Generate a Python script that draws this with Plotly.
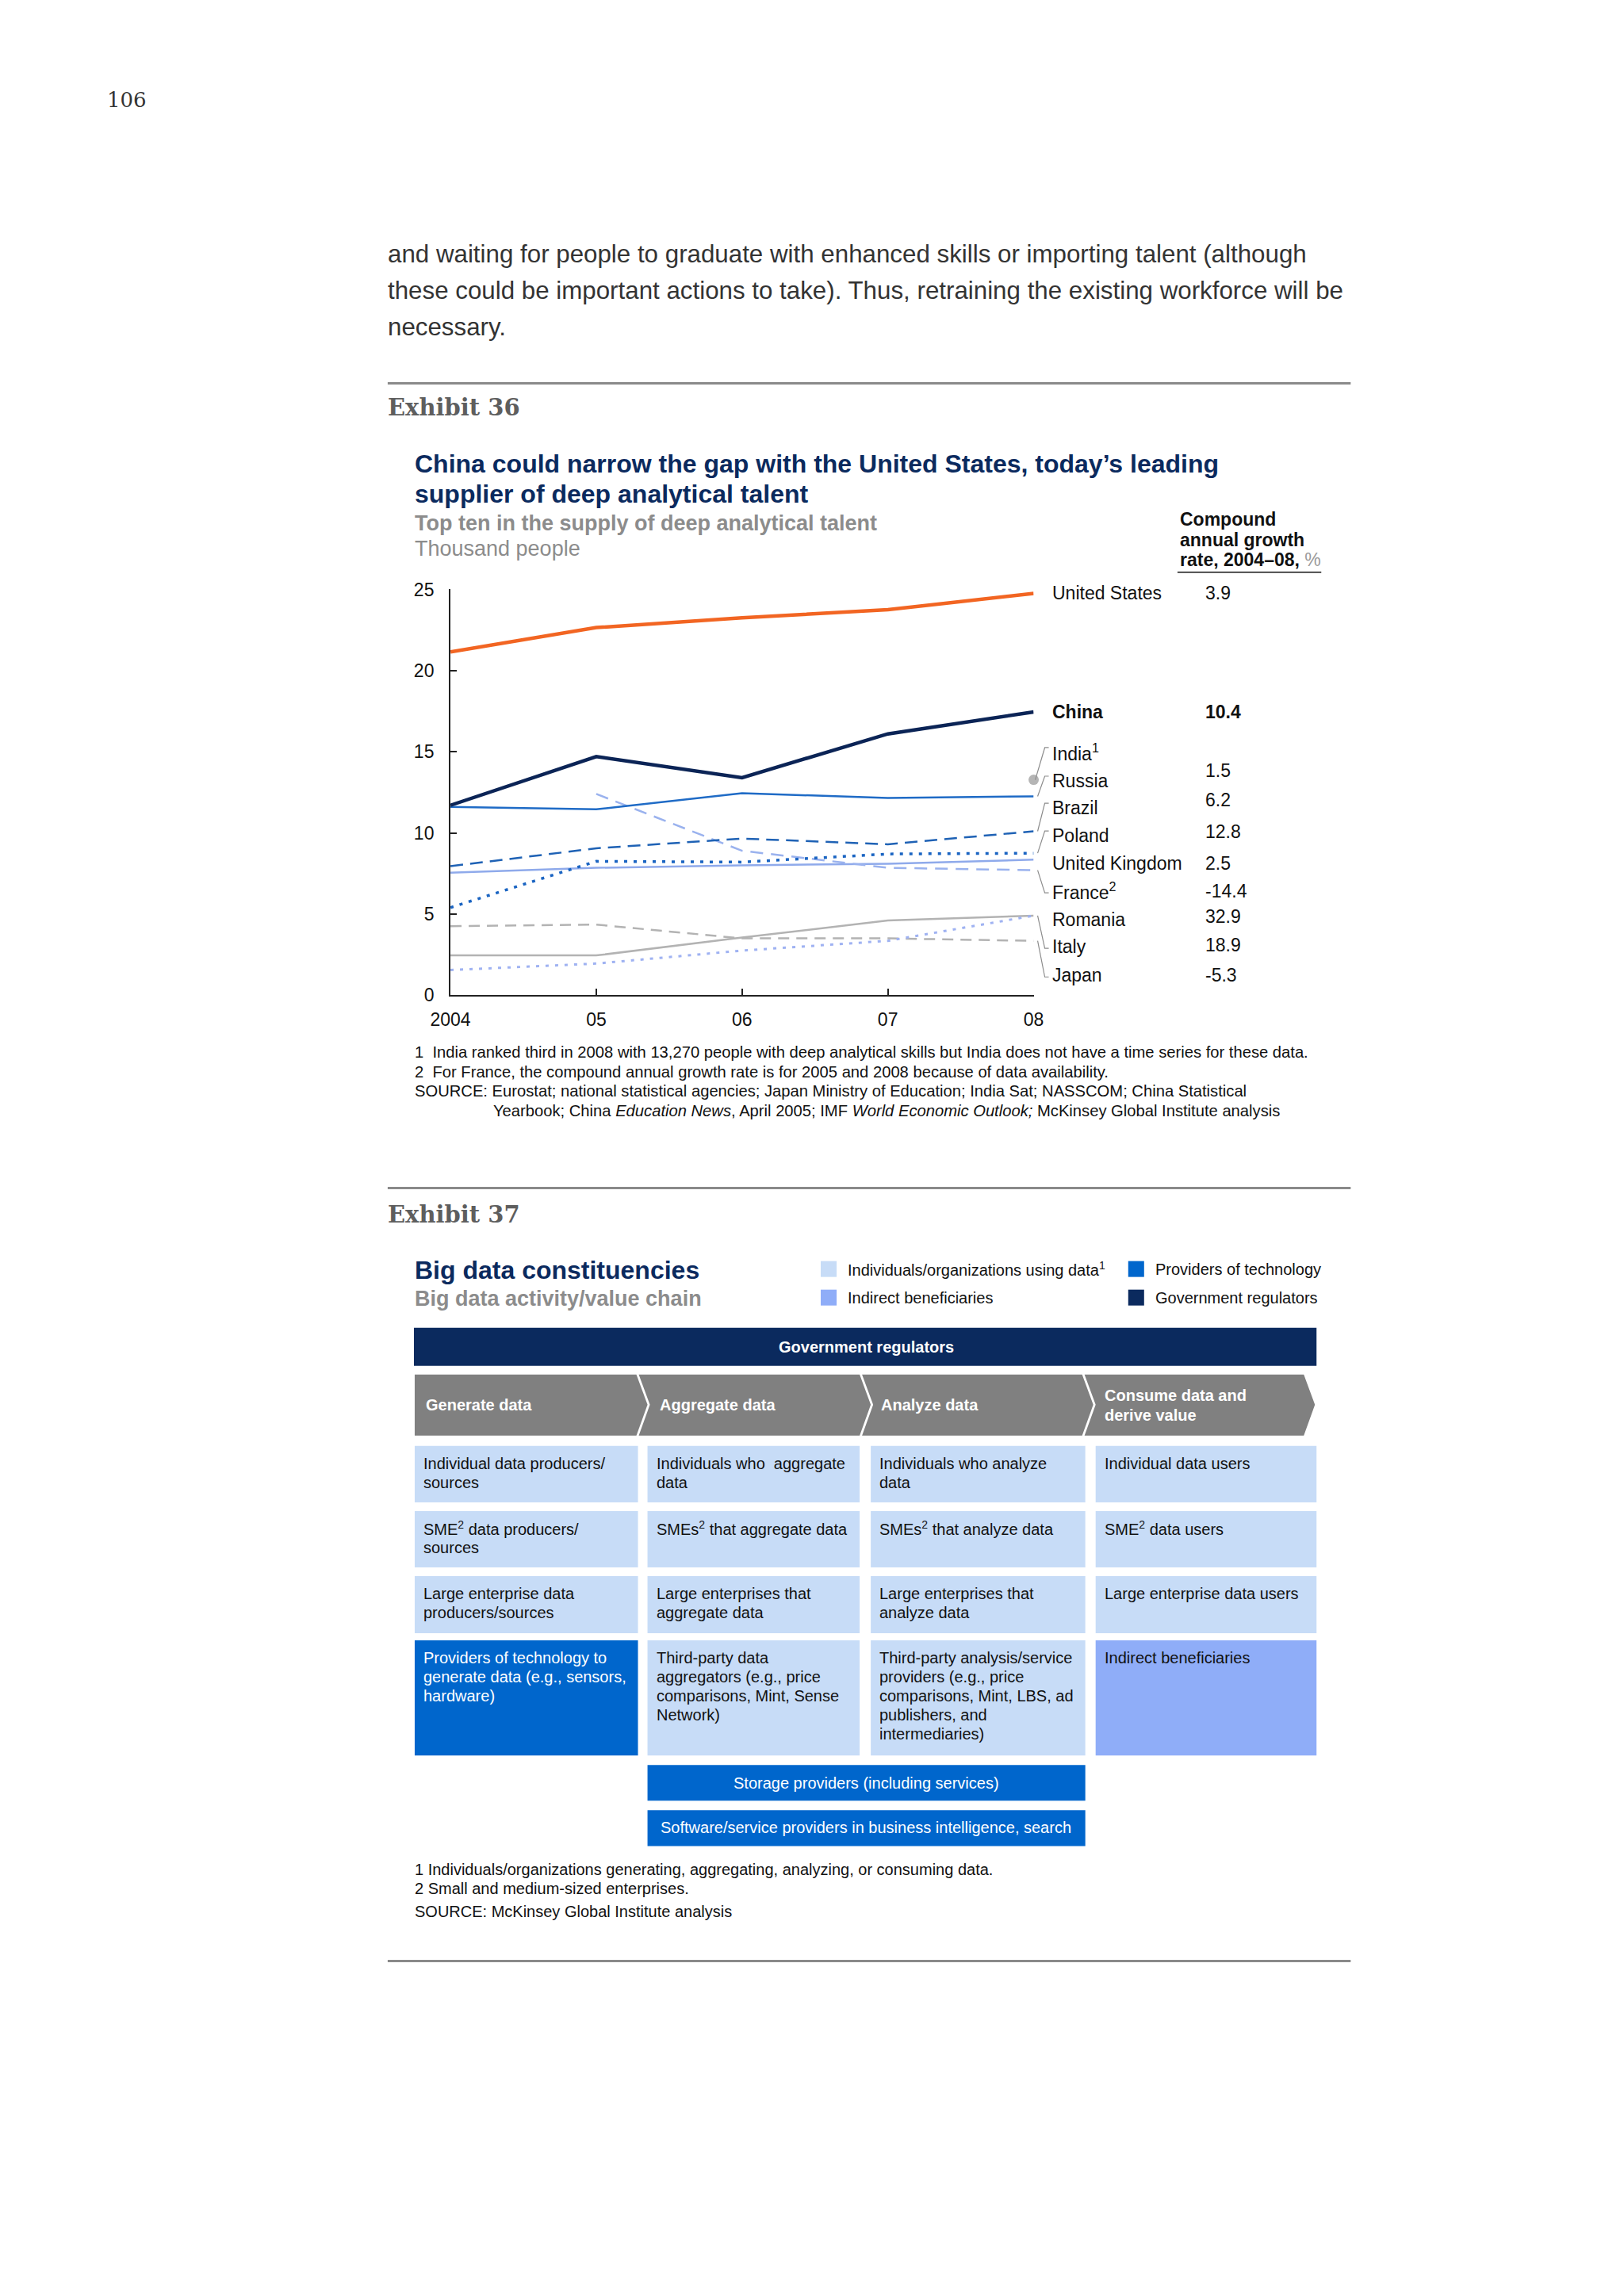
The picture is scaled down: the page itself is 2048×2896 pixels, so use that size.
import plotly.graph_objects as go

W, H = 2048, 2896
SANS = "Liberation Sans, Arial, sans-serif"
SERIF = "DejaVu Serif, serif"

# page-placement calibration (maps reference pixel positions to figure paper space)
OX, SX = 34.0, 0.979
OY, SY = 21.0, 0.99


def px(x):
    return (x - OX) / SX / W


def py(y):
    return 1 - (y - OY) / SY / H


# ---------------- DATA (Exhibit 36) ----------------
years = [2004, 2005, 2006, 2007, 2008]
year_labels = ["2004", "05", "06", "07", "08"]
y_ticks = [0, 5, 10, 15, 20, 25]

us = [21.15, 22.65, 23.25, 23.75, 24.75]
china = [11.7, 14.7, 13.4, 16.1, 17.45]
india_2008 = [13.27]
russia = [11.6, 11.45, 12.45, 12.15, 12.25]
brazil = [7.95, 9.05, 9.65, 9.3, 10.1]
poland = [5.4, 8.25, 8.2, 8.7, 8.75]
uk = [7.55, 7.85, 8.0, 8.1, 8.35]
france = [None, 12.4, 8.9, 7.85, 7.7]
romania = [1.55, 1.95, 2.75, 3.35, 4.9]
italy = [2.45, 2.45, 3.55, 4.6, 4.9]
japan = [4.25, 4.35, 3.5, 3.5, 3.35]

countries = ["United States", "China", "India<sup>1</sup>", "Russia", "Brazil", "Poland",
             "United Kingdom", "France<sup>2</sup>", "Romania", "Italy", "Japan"]
cagr = ["3.9", "10.4", "", "1.5", "6.2", "12.8", "2.5", "-14.4", "32.9", "18.9", "-5.3"]

# ---------------- DATA (Exhibit 37) ----------------
stages = ["Generate data", "Aggregate data", "Analyze data", "Consume data and\nderive value"]
row_individual = ["Individual data producers/\nsources", "Individuals who  aggregate\ndata",
                  "Individuals who analyze\ndata", "Individual data users"]
row_sme = ["SME<sup>2</sup> data producers/\nsources", "SMEs<sup>2</sup> that aggregate data",
           "SMEs<sup>2</sup> that analyze data", "SME<sup>2</sup> data users"]
row_large = ["Large enterprise data\nproducers/sources", "Large enterprises that\naggregate data",
             "Large enterprises that\nanalyze data", "Large enterprise data users"]
row_third = ["Providers of technology to\ngenerate data (e.g., sensors,\nhardware)",
             "Third-party data\naggregators (e.g., price\ncomparisons, Mint, Sense\nNetwork)",
             "Third-party analysis/service\nproviders (e.g., price\ncomparisons, Mint, LBS, ad\npublishers, and\nintermediaries)",
             "Indirect beneficiaries"]
legend_items = ["Individuals/organizations using data<sup>1</sup>", "Indirect beneficiaries",
                "Providers of technology", "Government regulators"]

# ---------------- COLOURS ----------------
NAVY = "#0B2A5E"
BLUE = "#0066CC"
LIGHT = "#C7DCF7"
INDIRECT = "#8FADF8"
GREY_CHEV = "#808080"
TITLE_GREY = "#8C8C8C"

fig = go.Figure()

# axis geometry (reference pixels)
AX_L, AX_R, AX_B, AX_T = 567, 1301, 1254, 742.7


def line(y, name, color, width=2.5, dash="solid"):
    fig.add_trace(go.Scatter(x=years, y=y, mode="lines", name=name,
                             line=dict(color=color, width=width, dash=dash),
                             connectgaps=False, hoverinfo="skip"))


line(italy, "Italy", "#B3B3B3", 2.5)
line(japan, "Japan", "#B3B3B3", 2.5, "14px,9px")
line(romania, "Romania", "#9FB2F2", 3, "4px,8px")
line(uk, "United Kingdom", "#8FAAEB", 2.5)
line(france, "France", "#9AB2EE", 2.5, "16px,10px")
line(poland, "Poland", "#1A64C2", 3.5, "4px,8px")
line(brazil, "Brazil", "#1F62B5", 2.5, "16px,9px")
line(russia, "Russia", "#1F6BC6", 2.5)
line(china, "China", "#0B2456", 4.5)
line(us, "United States", "#F26522", 4.5)
fig.add_trace(go.Scatter(x=[years[-1]], y=india_2008, mode="markers", name="India",
                         marker=dict(color="#B5B5B5", size=13), cliponaxis=False,
                         hoverinfo="skip"))

annotations = []
shapes = []


def txt(x, y, s, size=20, color="#111111", bold=False, anchor="left", family=SANS):
    annotations.append(dict(x=px(x), y=py(y), xref="paper", yref="paper",
                            text=f"<b>{s}</b>" if bold else s, showarrow=False,
                            xanchor=anchor, yanchor="middle",
                            font=dict(size=size, color=color, family=family)))


def block(x, y0, text, spacing, **kw):
    for i, ln in enumerate(text.split("\n")):
        txt(x, y0 + i * spacing, ln, **kw)


def rect(x0, y0, x1, y1, color):
    shapes.append(dict(type="rect", xref="paper", yref="paper", x0=px(x0), x1=px(x1),
                       y0=py(y1), y1=py(y0), fillcolor=color, line=dict(width=0),
                       layer="below"))


def hline(x0, x1, y, color, width):
    shapes.append(dict(type="line", xref="paper", yref="paper", x0=px(x0), x1=px(x1),
                       y0=py(y), y1=py(y), line=dict(color=color, width=width)))


def poly(points, color):
    d = "M " + " L ".join(f"{px(a):.5f},{py(b):.5f}" for a, b in points) + " Z"
    shapes.append(dict(type="path", xref="paper", yref="paper", path=d,
                       fillcolor=color, line=dict(width=0), layer="below"))


# ---------------- page text ----------------
txt(133, 126, "106", size=26, color="#333333", family=SERIF)
body = ["and waiting for people to graduate with enhanced skills or importing talent (although",
        "these could be important actions to take). Thus, retraining the existing workforce will be",
        "necessary."]
for i, ln in enumerate(body):
    txt(486, 320 + i * 46, ln, size=31.3, color="#333333")

# ---------------- Exhibit 36 ----------------
hline(488, 1700, 483, "#8A8A8A", 3)
txt(486, 513, "Exhibit 36", size=29, color="#5E5E5E", bold=True, family=SERIF)
txt(520, 584, "China could narrow the gap with the United States, today’s leading", size=32,
    color=NAVY, bold=True)
txt(520, 622, "supplier of deep analytical talent", size=32, color=NAVY, bold=True)
txt(520, 659, "Top ten in the supply of deep analytical talent", size=27, color=TITLE_GREY, bold=True)
txt(520, 691, "Thousand people", size=27, color=TITLE_GREY)
txt(1483, 654, "Compound", size=23, bold=True)
txt(1483, 680, "annual growth", size=23, bold=True)
txt(1483, 705, "<b>rate, 2004–08,</b> <span style='color:#9A9A9A'>%</span>", size=23)
hline(1482, 1663, 721, "#111111", 1.5)

label_y = [747, 897, 948, 984, 1018, 1053, 1088, 1123, 1159, 1193, 1229]
value_y = [747, 897, 0, 971, 1008, 1048, 1088, 1123, 1155, 1191, 1229]
for i, (c, v) in enumerate(zip(countries, cagr)):
    bold = (c == "China")
    txt(1322, label_y[i], c, size=23, bold=bold)
    if v:
        txt(1515, value_y[i], v, size=23, bold=bold)


def to_data(ypix):
    return (AX_B - ypix) * 25 / (AX_B - AX_T)


# leader lines: (end value from data, label index, direction, start x)
leaders = [(india_2008[0], 2, -1, 1303), (russia[-1], 3, -1, 1306), (brazil[-1], 4, -1, 1306),
           (poland[-1], 5, -1, 1306), (france[-1], 7, 1, 1306), (italy[-1], 9, 1, 1306),
           (japan[-1], 10, 1, 1306)]
for v0, idx, d, xs in leaders:
    yl = to_data(label_y[idx] + (-6 if d < 0 else 2))
    path = f"M {px(xs):.5f},{v0} L {px(1315):.5f},{yl:.4f} L {px(1320):.5f},{yl:.4f}"
    shapes.append(dict(type="path", xref="paper", yref="y", path=path,
                       line=dict(color="#8C8C8C", width=1.2)))

foot36 = ["1  India ranked third in 2008 with 13,270 people with deep analytical skills but India does not have a time series for these data.",
          "2  For France, the compound annual growth rate is for 2005 and 2008 because of data availability.",
          "SOURCE: Eurostat; national statistical agencies; Japan Ministry of Education; India Sat; NASSCOM; China Statistical"]
for i, ln in enumerate(foot36):
    txt(520, 1326 + i * 24.5, ln, size=20.2)
txt(619, 1399.5, "Yearbook; China <i>Education News</i>, April 2005; IMF <i>World Economic Outlook;</i> McKinsey Global Institute analysis", size=20.2)

# ---------------- Exhibit 37 ----------------
hline(488, 1700, 1497, "#8A8A8A", 3)
txt(486, 1530, "Exhibit 37", size=29, color="#5E5E5E", bold=True, family=SERIF)
txt(520, 1600, "Big data constituencies", size=32, color=NAVY, bold=True)
txt(520, 1636, "Big data activity/value chain", size=27, color=TITLE_GREY, bold=True)

leg_pos = [(1033, 1599, LIGHT), (1033, 1635, INDIRECT), (1420, 1599, BLUE), (1420, 1635, NAVY)]
for (lx, ly, col), lab in zip(leg_pos, legend_items):
    rect(lx, ly - 10, lx + 20, ly + 10, col)
    txt(lx + 32, ly, lab, size=20)

# government regulators bar
rect(521, 1673, 1657, 1721, NAVY)
txt(1090, 1697, "Government regulators", size=20, color="white", bold=True, anchor="center")

# chevrons
CT, CB, CM = 1732, 1809, 1770
chev_x = [(522, 801), (804, 1082), (1085, 1362), (1365, 1641)]
for i, (a, b) in enumerate(chev_x):
    pts = [(a, CT), (b, CT), (b + 14, CM), (b, CB), (a, CB)]
    if i > 0:
        pts.append((a + 14, CM))
    poly(pts, GREY_CHEV)
chev_text_x = [534, 828, 1107, 1388]
for i, s in enumerate(stages):
    lines = s.split("\n")
    if len(lines) == 1:
        txt(chev_text_x[i], CM, s, size=20, color="white", bold=True)
    else:
        block(chev_text_x[i], 1758, s, 25, size=20, color="white", bold=True)

cols = [(522, 803), (815, 1082), (1096, 1366), (1379, 1657)]
rows = [(1822, 1893, row_individual), (1904, 1975, row_sme), (1986, 2058, row_large),
        (2067, 2212, row_third)]
row4_fill = [BLUE, LIGHT, LIGHT, INDIRECT]
for r, (top, bot, texts) in enumerate(rows):
    for c, (a, b) in enumerate(cols):
        fill = row4_fill[c] if r == 3 else LIGHT
        rect(a, top, b, bot, fill)
        color = "white" if (r == 3 and c == 0) else "#111111"
        block(a + 9, top + 22, texts[c], 24, size=20, color=color)

rect(815, 2224, 1366, 2269, BLUE)
txt(1090, 2247, "Storage providers (including services)", size=20, color="white", anchor="center")
rect(815, 2281, 1366, 2326, BLUE)
txt(1090, 2303, "Software/service providers in business intelligence, search", size=20,
    color="white", anchor="center")

foot37 = ["1 Individuals/organizations generating, aggregating, analyzing, or consuming data.",
          "2 Small and medium-sized enterprises."]
for i, ln in enumerate(foot37):
    txt(520, 2356 + i * 24, ln, size=20)
txt(520, 2409, "SOURCE: McKinsey Global Institute analysis", size=20)
hline(488, 1700, 2471, "#8A8A8A", 3)

fig.update_layout(
    width=W, height=H, margin=dict(l=0, r=0, t=0, b=0),
    paper_bgcolor="white", plot_bgcolor="white", showlegend=False,
    annotations=annotations, shapes=shapes,
    xaxis=dict(domain=[px(AX_L), px(AX_R)], range=[2004, 2008], tickvals=years,
               ticktext=year_labels, showline=True, linecolor="#222222", linewidth=2,
               ticks="inside", ticklen=8, tickwidth=2, tickcolor="#222222",
               showgrid=False, zeroline=False, ticklabelstandoff=9,
               tickfont=dict(size=23, color="#111111", family=SANS)),
    yaxis=dict(domain=[py(AX_B), py(AX_T)], range=[0, 25], tickvals=y_ticks,
               showline=True, linecolor="#222222", linewidth=2,
               ticks="inside", ticklen=8, tickwidth=2, tickcolor="#222222",
               showgrid=False, zeroline=False, ticklabelstandoff=14,
               tickfont=dict(size=23, color="#111111", family=SANS)),
)

fig.write_html("out.html")
